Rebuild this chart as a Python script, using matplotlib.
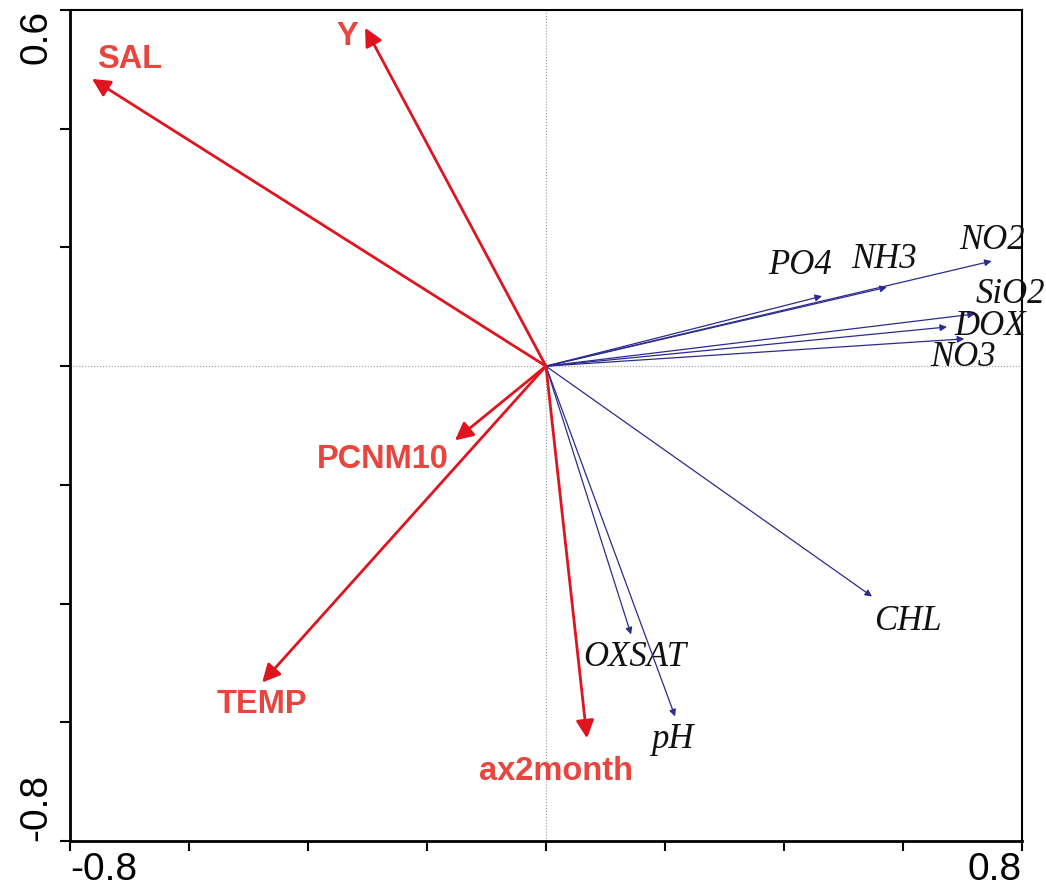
import matplotlib.pyplot as plt

# explanatory variables (red) and response variables (blue), axis 1 / axis 2 scores
expl_names = ['SAL', 'Y', 'PCNM10', 'TEMP', 'ax2month']
expl_x = [-0.763, -0.304, -0.153, -0.477, 0.069]
expl_y = [0.484, 0.570, -0.125, -0.533, -0.627]
expl_lab_x = [-0.699, -0.334, -0.274, -0.477, 0.017]
expl_lab_y = [0.516, 0.555, -0.157, -0.570, -0.683]

resp_names = ['PO4', 'NH3', 'NO2', 'SiO2', 'DOX', 'NO3', 'CHL', 'OXSAT', 'pH']
resp_x = [0.464, 0.573, 0.749, 0.721, 0.674, 0.703, 0.548, 0.143, 0.217]
resp_y = [0.118, 0.133, 0.177, 0.088, 0.066, 0.046, -0.388, -0.452, -0.590]
resp_lab_x = [0.427, 0.568, 0.750, 0.780, 0.746, 0.701, 0.608, 0.150, 0.212]
resp_lab_y = [0.170, 0.179, 0.212, 0.121, 0.066, 0.015, -0.430, -0.491, -0.629]

red_line = '#e0141e'
red_text = '#e8453e'
blue = '#2b2b8f'

fig = plt.figure(figsize=(10.46, 8.93), dpi=100)
ax = fig.add_axes([0.0669, 0.0582, 0.9101, 0.9306])
ax.set_xlim(-0.8, 0.8)
ax.set_ylim(-0.8, 0.6)

ax.axhline(0, color='#999999', lw=0.8, ls=':', zorder=0)
ax.axvline(0, color='#999999', lw=0.8, ls=':', zorder=0)

for i in range(len(resp_names)):
    ax.annotate('', xy=(resp_x[i], resp_y[i]), xytext=(0, 0),
                arrowprops=dict(arrowstyle='-|>', color=blue, lw=0.9,
                                mutation_scale=10, shrinkA=0, shrinkB=0))
    ax.text(resp_lab_x[i], resp_lab_y[i], resp_names[i], ha='center', va='center',
            fontsize=25, family='Liberation Serif', style='italic', color='#111111')

for i in range(len(expl_names)):
    ax.annotate('', xy=(expl_x[i], expl_y[i]), xytext=(0, 0),
                arrowprops=dict(arrowstyle='-|>', color=red_line, lw=2,
                                mutation_scale=27, shrinkA=0, shrinkB=0))
    ax.text(expl_lab_x[i], expl_lab_y[i], expl_names[i], ha='center', va='center',
            fontsize=23.5, family='Liberation Sans', weight='bold', color=red_text)

ticks_x = [-0.8, -0.6, -0.4, -0.2, 0, 0.2, 0.4, 0.6, 0.8]
ticks_y = [-0.8, -0.6, -0.4, -0.2, 0, 0.2, 0.4, 0.6]
ax.set_xticks(ticks_x)
ax.set_xticklabels(['-0.8', '', '', '', '', '', '', '', '0.8'])
ax.set_yticks(ticks_y)
ax.set_yticklabels(['-0.8', '', '', '', '', '', '', '0.6'], rotation=90)
ax.tick_params(direction='out', length=7, width=1.5, labelsize=28, pad=1)
ax.tick_params(axis='y', pad=4)
for lab in ax.get_xticklabels() + ax.get_yticklabels():
    lab.set_family('Liberation Sans')

# end labels sit inside the axis span
xl = ax.get_xticklabels()
xl[0].set_ha('left')
xl[-1].set_ha('right')
yl = ax.get_yticklabels()
yl[0].set_va('bottom')
yl[-1].set_va('top')

for side in ['left', 'bottom']:
    ax.spines[side].set_linewidth(2)
for side in ['top', 'right']:
    ax.spines[side].set_linewidth(1.5)

fig.savefig('out.png', dpi=100)
